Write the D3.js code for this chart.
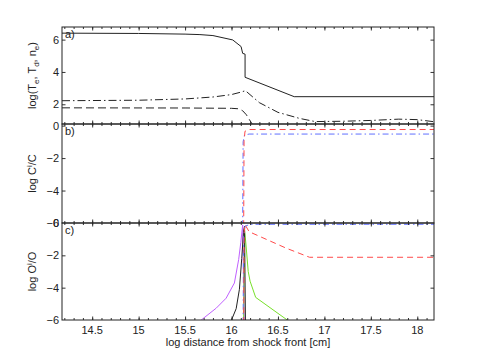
<!DOCTYPE html>
<html>
<head>
<meta charset="utf-8">
<script src="https://cdn.jsdelivr.net/npm/d3@7"></script>
<style>
body { margin:0; background:#fff; }
svg text { font-family: "Liberation Sans", Arial, sans-serif; fill:#222; }
</style>
</head>
<body>
<div id="svgElement1"></div>
<script>
// x values are log distance from shock front, y values are log quantities
// panel a
var teX = [14.175, 15.0, 15.5, 15.66, 15.8, 16.013, 16.103, 16.12, 16.146, 16.146, 16.675, 18.18];
var teY = [6.40, 6.38, 6.34, 6.31, 6.25, 5.98, 5.57, 5.15, 5.1, 3.67, 2.47, 2.47];
var tdX = [14.175, 15.0, 15.5, 15.8, 16.0, 16.1, 16.15, 16.3, 16.5, 16.73, 16.9, 17.2, 17.5, 17.8, 18.0, 18.18];
var tdY = [2.22, 2.25, 2.33, 2.45, 2.6, 2.75, 2.84, 2.1, 1.5, 1.13, 0.93, 0.95, 1.0, 1.08, 1.05, 0.92];
var neX = [14.175, 15.5, 16.0, 16.08, 16.12, 16.16, 16.22, 16.26];
var neY = [1.78, 1.77, 1.75, 1.72, 1.6, 1.35, 0.8, 0.5];
// panel b
var cRedX = [16.131, 16.135, 16.145, 16.19, 18.18];
var cRedY = [-6.2, -1.0, -0.35, -0.24, -0.24];
var cBlueX = [16.12, 16.125, 16.14, 16.19, 18.18];
var cBlueY = [-6.2, -1.0, -0.58, -0.52, -0.52];
// panel c
var oBlueX = [16.125, 16.13, 16.145, 16.2, 18.18];
var oBlueY = [-6.2, -0.8, -0.2, -0.08, -0.08];
var oRedX = [16.131, 16.136, 16.145, 16.19, 16.59, 16.84, 18.18];
var oRedY = [-6.2, -0.6, -0.1, -0.54, -1.56, -2.12, -2.12];
var oBlackX = [16.0, 16.05, 16.085, 16.11, 16.13, 16.14, 16.15];
var oBlackY = [-6.0, -5.3, -4.1, -2.2, -0.5, -0.2, -6.2];
var oPurpleX = [15.674, 15.835, 15.942, 16.031, 16.077, 16.1, 16.12, 16.137];
var oPurpleY = [-6.0, -5.27, -4.65, -3.71, -2.26, -1.2, -0.12, -6.2];
var oGreenX = [16.13, 16.14, 16.155, 16.18, 16.2, 16.26, 16.6];
var oGreenY = [-6.2, -0.4, -1.3, -3.0, -3.6, -4.6, -6.0];

var xTicks = [14.5, 15, 15.5, 16, 16.5, 17, 17.5, 18];
var xDomain = [14.175, 18.18];
var panelDomains = [[0.78, 6.78], [-6, 0.1], [-6, 0]];
var panelTicks = [[2, 4, 6], [-6, -4, -2, 0], [-6, -4, -2, 0]];
var panelNames = ["a)", "b)", "c)"];

var width = 480, height = 361;
var left = 62, right = 434;
var tops = [27, 124, 223], bottoms = [124, 223, 320];

var svg = d3.select("#svgElement1").append("svg").attr("width", width).attr("height", height);
var x = d3.scaleLinear().range([left, right]).domain(xDomain);

var minorTicks = d3.range(14.2, 18.19, 0.1).map(function(d){ return Math.round(d*10)/10; });

function drawLine(g, y, xs, ys, color, dash, clipId){
	var pts = xs.map(function(d, i){ return [d, ys[i]]; });
	var line = d3.line().x(function(d){ return x(d[0]); }).y(function(d){ return y(d[1]); });
	g.append("path")
		.attr("d", line(pts))
		.attr("clip-path", "url(#" + clipId + ")")
		.style("fill", "none")
		.style("stroke", color)
		.style("stroke-width", 1)
		.style("stroke-dasharray", dash);
}

var panels = [];
for(var p=0; p<3; p++){
	var y = d3.scaleLinear().range([bottoms[p], tops[p]]).domain(panelDomains[p]);
	var g = svg.append("g");
	var clipId = "clip" + p;
	svg.append("clipPath").attr("id", clipId)
		.append("rect")
		.attr("x", left).attr("y", tops[p])
		.attr("width", right-left).attr("height", bottoms[p]-tops[p]);
	panels.push({y: y, g: g, clip: clipId});

	// inward ticks on all four sides
	var axTop = d3.axisBottom(x).tickValues(xTicks).tickSize(3.5).tickFormat("");
	var axBot = d3.axisTop(x).tickValues(xTicks).tickSize(3.5).tickFormat("");
	var axTopMinor = d3.axisBottom(x).tickValues(minorTicks).tickSize(2).tickFormat("");
	var axBotMinor = d3.axisTop(x).tickValues(minorTicks).tickSize(2).tickFormat("");
	svg.append("g").attr("class", "axis").attr("transform", "translate(0," + tops[p] + ")").call(axTop);
	svg.append("g").attr("class", "axis").attr("transform", "translate(0," + tops[p] + ")").call(axTopMinor);
	svg.append("g").attr("class", "axis").attr("transform", "translate(0," + bottoms[p] + ")").call(axBot);
	svg.append("g").attr("class", "axis").attr("transform", "translate(0," + bottoms[p] + ")").call(axBotMinor);

	var yTicksIn = panelTicks[p].filter(function(d){ return y(d) > tops[p]+1 && y(d) < bottoms[p]-1; });
	svg.append("g").attr("class", "axis")
		.attr("transform", "translate(" + left + ",0)")
		.call(d3.axisRight(y).tickValues(yTicksIn).tickSize(3.5).tickFormat(""));
	svg.append("g").attr("class", "axis")
		.attr("transform", "translate(" + right + ",0)")
		.call(d3.axisLeft(y).tickValues(yTicksIn).tickSize(3.5).tickFormat(""));

	// tick labels
	svg.append("g").selectAll("text").data(panelTicks[p]).enter()
		.append("text")
		.attr("x", left - 3)
		.attr("y", function(d){ return y(d) + 4; })
		.attr("font-size", "11px")
		.style("text-anchor", "end")
		.text(function(d){ return d < 0 ? "\u2212" + (-d) : d; });

	// panel letter
	svg.append("text")
		.attr("x", left + 3)
		.attr("y", tops[p] + 11)
		.attr("font-size", "11px")
		.text(panelNames[p]);
}

// hide domain paths from the axes, frames drawn separately
svg.selectAll(".axis path.domain").remove();
svg.selectAll(".axis line").style("stroke", "#333");

// panel a lines
drawLine(panels[0].g, panels[0].y, teX, teY, "#222", null, panels[0].clip);
drawLine(panels[0].g, panels[0].y, tdX, tdY, "#222", "8,3,1.5,3", panels[0].clip);
drawLine(panels[0].g, panels[0].y, neX, neY, "#222", "8,4", panels[0].clip);
// panel b lines
drawLine(panels[1].g, panels[1].y, cBlueX, cBlueY, "#6070ff", "6,3,1.5,3", panels[1].clip);
drawLine(panels[1].g, panels[1].y, cRedX, cRedY, "#ff4a4a", "6,4", panels[1].clip);
// panel c lines
drawLine(panels[2].g, panels[2].y, oPurpleX, oPurpleY, "#c060ff", null, panels[2].clip);
drawLine(panels[2].g, panels[2].y, oGreenX, oGreenY, "#77e02a", null, panels[2].clip);
drawLine(panels[2].g, panels[2].y, oBlackX, oBlackY, "#222", null, panels[2].clip);
drawLine(panels[2].g, panels[2].y, oBlueX, oBlueY, "#6070ff", "6,3,1.5,3", panels[2].clip);
drawLine(panels[2].g, panels[2].y, oRedX, oRedY, "#ff4a4a", "6,4", panels[2].clip);

// frames
for(var p=0; p<3; p++){
	svg.append("rect")
		.attr("x", left).attr("y", tops[p])
		.attr("width", right-left).attr("height", bottoms[p]-tops[p])
		.style("fill", "none")
		.style("stroke", "#222")
		.style("stroke-width", 1);
}

// x tick labels
svg.append("g").selectAll("text").data(xTicks).enter()
	.append("text")
	.attr("x", function(d){ return x(d); })
	.attr("y", 334)
	.attr("font-size", "11px")
	.style("text-anchor", "middle")
	.text(function(d){ return d; });

svg.append("text")
	.attr("x", (left+right)/2)
	.attr("y", 346)
	.attr("font-size", "11px")
	.style("text-anchor", "middle")
	.text("log distance from shock front [cm]");

// y labels
var ylab = svg.append("text")
	.attr("transform", "translate(36," + (tops[0]+bottoms[0])/2 + ") rotate(-90)")
	.attr("font-size", "11px")
	.style("text-anchor", "middle");
ylab.append("tspan").text("log(T");
ylab.append("tspan").attr("dy", 3).attr("font-size", "8px").text("e");
ylab.append("tspan").attr("dy", -3).text(", T");
ylab.append("tspan").attr("dy", 3).attr("font-size", "8px").text("d");
ylab.append("tspan").attr("dy", -3).text(", n");
ylab.append("tspan").attr("dy", 3).attr("font-size", "8px").text("e");
ylab.append("tspan").attr("dy", -3).text(")");

var ylabs = [["log C", "C"], ["log O", "O"]];
for(var i=0; i<2; i++){
	var t = svg.append("text")
		.attr("transform", "translate(36," + (tops[i+1]+bottoms[i+1])/2 + ") rotate(-90)")
		.attr("font-size", "11px")
		.style("text-anchor", "middle");
	t.append("tspan").text(ylabs[i][0]);
	t.append("tspan").attr("dy", -4).attr("font-size", "8px").text("i");
	t.append("tspan").attr("dy", 4).text("/" + ylabs[i][1]);
}
</script>
</body>
</html>
